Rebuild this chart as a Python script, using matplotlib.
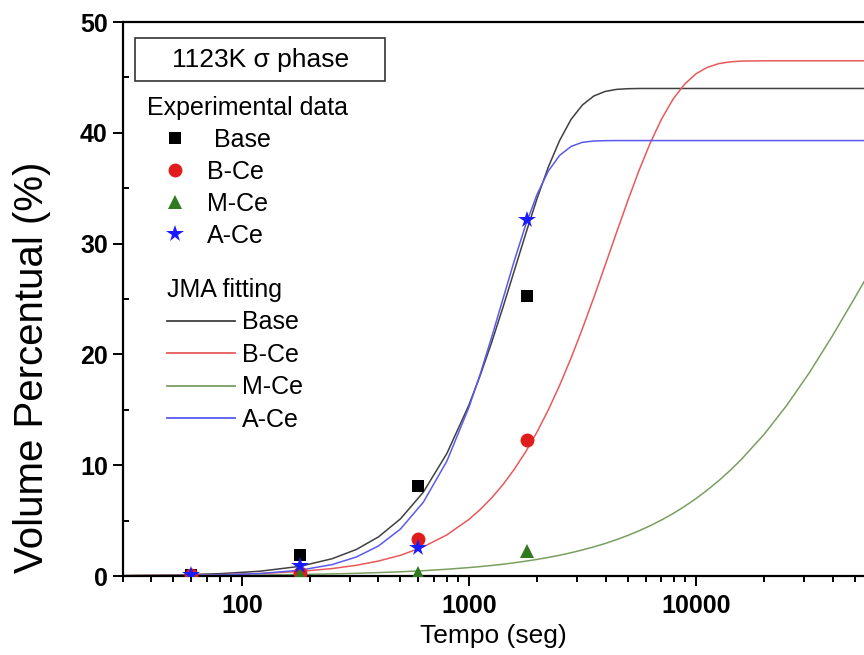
import numpy as np
import matplotlib
matplotlib.use('Agg')
import matplotlib.pyplot as plt
from matplotlib.ticker import LogLocator, FuncFormatter, MultipleLocator, NullFormatter
from matplotlib.lines import Line2D
from matplotlib.patches import Rectangle

plt.rcParams['font.family'] = ['Liberation Sans', 'DejaVu Sans']

# experimental points (time in s, volume %)
t_exp = [60, 180, 600, 1800]
base_exp = [0.1, 1.9, 8.1, 25.3]
bce_exp = [0.1, 0.3, 3.3, 12.3]
mce_exp = [0.05, 0.1, 0.3, 2.3]
ace_exp = [0.1, 0.9, 2.5, 32.1]

# JMA fitted curves
t_fit = [30, 50, 80, 120, 180, 250, 320, 400, 500, 630, 800, 1000, 1120, 1260,
         1410, 1580, 1780, 2000, 2240, 2510, 2820, 3160, 3550, 3980, 4470, 5010,
         5620, 6310, 7080, 7940, 8910, 10000, 11200, 12600, 14100, 15800, 20000,
         25100, 31600, 39800, 50100, 55000]
base_fit = [0.04, 0.09, 0.21, 0.43, 0.87, 1.56, 2.40, 3.53, 5.16, 7.56, 11.05, 15.41,
            18.05, 21.07, 24.18, 27.45, 30.88, 34.1, 36.92, 39.3, 41.21, 42.5, 43.32,
            43.73, 43.92, 43.98, 44.0, 44.0, 44.0, 44.0, 44.0, 44.0, 44.0, 44.0,
            44.0, 44.0, 44.0, 44.0, 44.0, 44.0, 44.0, 44.0]
bce_fit = [0.03, 0.06, 0.12, 0.22, 0.41, 0.67, 0.97, 1.35, 1.87, 2.63, 3.71, 5.10,
           5.98, 7.05, 8.22, 9.59, 11.21, 13.02, 15.0, 17.2, 19.67, 22.29, 25.12,
           28.02, 30.99, 33.86, 36.61, 39.13, 41.29, 43.05, 44.38, 45.32, 45.90,
           46.24, 46.40, 46.47, 46.5, 46.5, 46.5, 46.5, 46.5, 46.5]
mce_fit = [0.02, 0.04, 0.06, 0.09, 0.14, 0.19, 0.24, 0.31, 0.38, 0.48, 0.61, 0.76,
           0.85, 0.95, 1.06, 1.19, 1.34, 1.50, 1.68, 1.87, 2.10, 2.35, 2.63, 2.93,
           3.28, 3.66, 4.08, 4.55, 5.07, 5.64, 6.28, 6.98, 7.74, 8.60, 9.50, 10.49,
           12.80, 15.39, 18.35, 21.63, 25.11, 26.55]
ace_fit = [0.01, 0.04, 0.10, 0.22, 0.52, 1.03, 1.72, 2.71, 4.24, 6.65, 10.36, 15.2,
           18.17, 21.54, 24.93, 28.35, 31.69, 34.47, 36.55, 37.96, 38.77, 39.14,
           39.26, 39.29, 39.3, 39.3, 39.3, 39.3, 39.3, 39.3, 39.3, 39.3, 39.3, 39.3,
           39.3, 39.3, 39.3, 39.3, 39.3, 39.3, 39.3, 39.3]

names = ['Base', 'B-Ce', 'M-Ce', 'A-Ce']
exp_vals = [base_exp, bce_exp, mce_exp, ace_exp]
fit_vals = [base_fit, bce_fit, mce_fit, ace_fit]
mk_colors = ['black', '#e01c1c', '#2f7a1e', '#1a1aff']
ln_colors = ['#404040', '#e85a5a', '#7a9e62', '#5a5af0']
markers = ['s', 'o', '^', '*']
msizes = [9, 10, 10, 13]

fig = plt.figure(figsize=(8.64, 6.55), dpi=100)
ax = fig.add_axes([0.1424, 0.1206, 0.8576, 0.8458])

for i in range(4):
    ax.plot(t_fit, fit_vals[i], color=ln_colors[i], lw=1.1, zorder=2)
for i in range(4):
    ax.plot(t_exp, exp_vals[i], linestyle='none', marker=markers[i],
            color=mk_colors[i], ms=msizes[i], mew=0, zorder=3 + i)

ax.set_xscale('log')
ax.set_xlim(30, 55000)
ax.set_ylim(0, 50)
ax.xaxis.set_major_locator(LogLocator(base=10, numticks=10))
ax.xaxis.set_minor_locator(LogLocator(base=10, subs=np.arange(2, 10), numticks=10))
ax.xaxis.set_major_formatter(FuncFormatter(lambda v, p: f'{v:g}'))
ax.xaxis.set_minor_formatter(NullFormatter())
ax.yaxis.set_major_locator(MultipleLocator(10))
ax.yaxis.set_minor_locator(MultipleLocator(5))

for s in ['left', 'bottom', 'top']:
    ax.spines[s].set_linewidth(1.6)
ax.spines['right'].set_visible(False)
ax.tick_params(axis='x', which='major', direction='out', length=7, width=1.4, pad=6,
               labelsize=18)
ax.tick_params(axis='x', which='minor', direction='out', length=4, width=1.4)
ax.tick_params(axis='y', which='major', direction='out', length=7, width=1.4, pad=4,
               labelsize=18)
ax.tick_params(axis='y', which='minor', direction='in', length=4, width=1.4)
for lab in ax.get_xticklabels() + ax.get_yticklabels():
    lab.set_fontweight('bold')

ax.set_xlabel('Tempo (seg)', fontsize=19, labelpad=4)
ax.set_ylabel('Volume Percentual (%)', fontsize=29)
ax.yaxis.set_label_coords(-0.097, 0.377)

# title box
ax.add_patch(Rectangle((0.0162, 0.8935), 0.3374, 0.0776, transform=ax.transAxes,
                       fill=False, lw=1.2, edgecolor='#333333', zorder=5))
ax.text(0.185, 0.932, '1123K σ phase', transform=ax.transAxes, fontsize=19,
        ha='center', va='center', zorder=6)

exp_handles = [Line2D([], [], linestyle='none', marker=markers[i], color=mk_colors[i],
                      ms=msizes[i], mew=0) for i in range(4)]
exp_labels = [' Base', 'B-Ce', 'M-Ce', 'A-Ce']
leg1 = ax.legend(exp_handles, exp_labels, loc='upper left',
                 bbox_to_anchor=(0.0324, 0.866), frameon=False, fontsize=18,
                 title='Experimental data', title_fontsize=18, alignment='left',
                 borderpad=0, borderaxespad=0, handlelength=2.2, handletextpad=0.2,
                 labelspacing=0.32)
ax.add_artist(leg1)

fit_handles = [Line2D([], [], color=ln_colors[i], lw=1.3) for i in range(4)]
leg2 = ax.legend(fit_handles, names, loc='upper left',
                 bbox_to_anchor=(0.0594, 0.538), frameon=False, fontsize=18,
                 title='JMA fitting', title_fontsize=18, alignment='left',
                 borderpad=0, borderaxespad=0, handlelength=2.7, handletextpad=0.3,
                 labelspacing=0.34)

fig.savefig('out.png', dpi=100)
